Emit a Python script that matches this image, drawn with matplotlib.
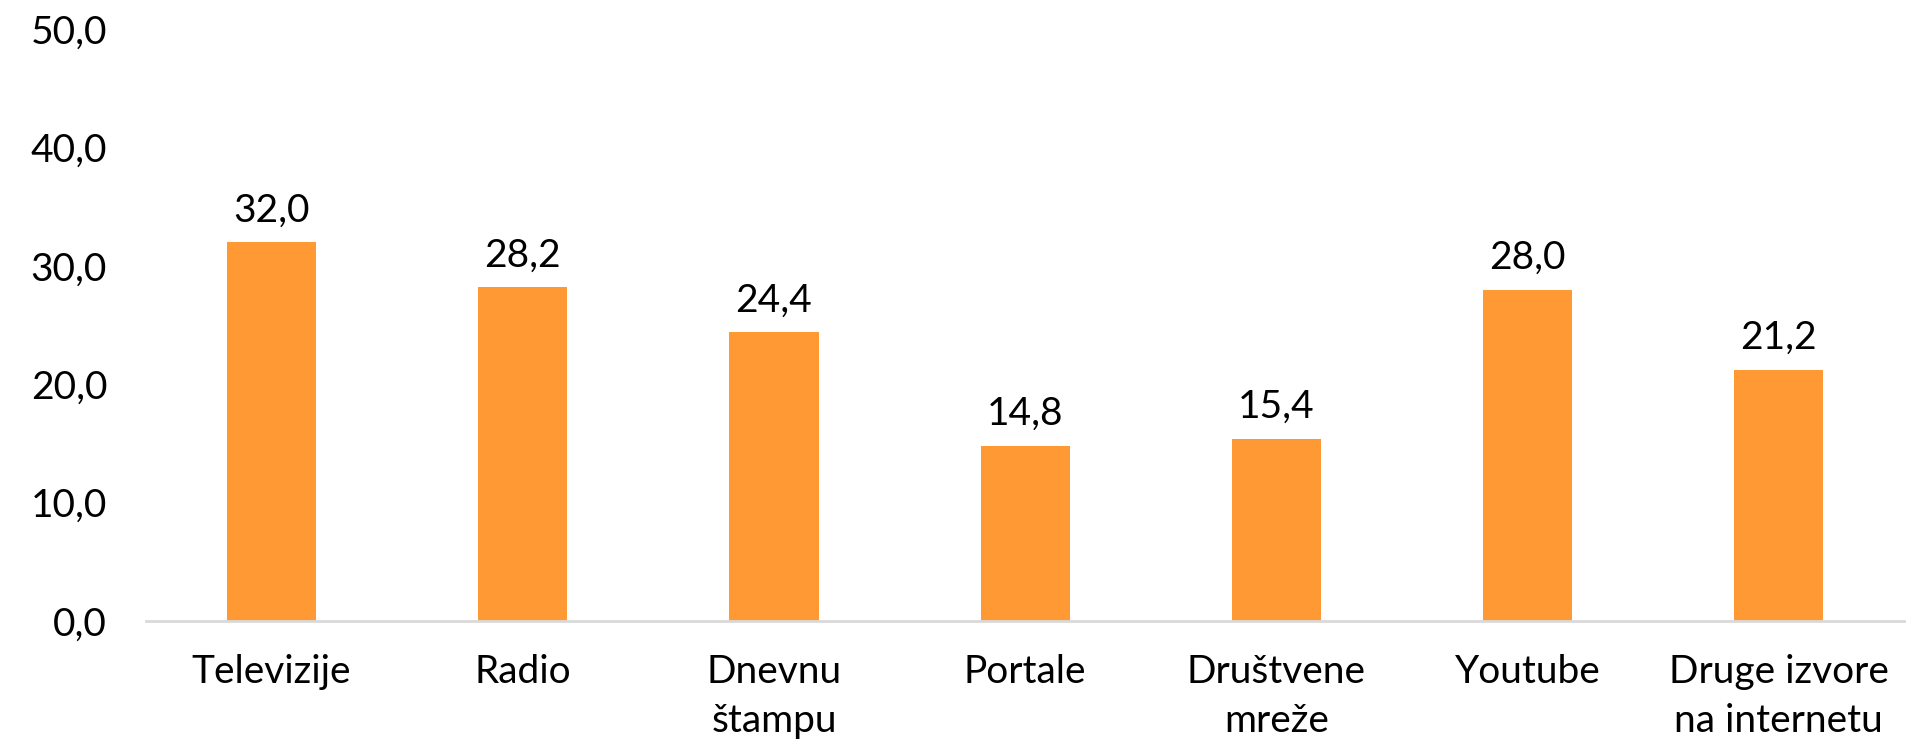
import matplotlib
matplotlib.use("Agg")
import matplotlib.pyplot as plt

categories = ["Televizije", "Radio", "Dnevnu\nštampu", "Portale",
              "Društvene\nmreže", "Youtube", "Druge izvore\nna internetu"]
values = [32.0, 28.2, 24.4, 14.8, 15.4, 28.0, 21.2]
yticks = [0, 10, 20, 30, 40, 50]

plt.rcParams['font.family'] = ['Lato', 'DejaVu Sans']

fig = plt.figure(figsize=(19.09, 7.5), dpi=100)
ax = fig.add_axes([0.0765, 0.172, 0.921, 0.789])

x = range(len(categories))
bars = ax.bar(x, values, width=0.355, color="#FF9933", zorder=2)

for xi, v in zip(x, values):
    ax.annotate(f"{v:.1f}".replace(".", ","), (xi, v), xytext=(0, 10),
                textcoords="offset points", ha="center", va="bottom",
                fontsize=28, color="black")

ax.set_xlim(-0.5, len(categories) - 0.5)
ax.set_ylim(0, 50)
ax.set_yticks(yticks)
ax.set_yticklabels([f"{t:.1f}".replace(".", ",") for t in yticks], fontsize=28)
ax.set_xticks(list(x))
ax.set_xticklabels(categories, fontsize=28, linespacing=1.45)

for s in ["top", "right", "left"]:
    ax.spines[s].set_visible(False)
ax.spines["bottom"].set_color("#D9D9D9")
ax.spines["bottom"].set_linewidth(2)
ax.tick_params(axis="both", length=0)
ax.tick_params(axis="y", pad=28)
ax.tick_params(axis="x", pad=24)

fig.savefig("out.png", dpi=100)
